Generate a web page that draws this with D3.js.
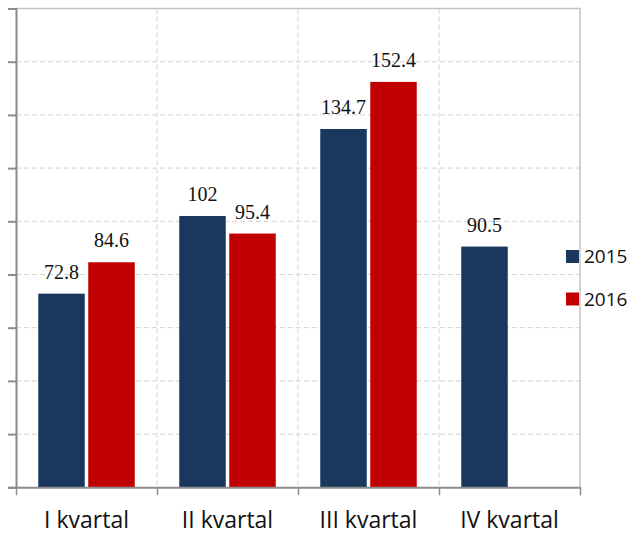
<!DOCTYPE html>
<html><head><meta charset="utf-8">
<script src="https://cdn.jsdelivr.net/npm/d3@7"></script>
<style>body{margin:0;background:#fff}svg{display:block}</style>
</head><body>
<svg id="c" width="632" height="535"></svg>
<script>
const categories = ["I kvartal", "II kvartal", "III kvartal", "IV kvartal"];
const series = ["2015", "2016"];
const values2015 = [72.8, 102, 134.7, 90.5];
const values2016 = [84.6, 95.4, 152.4, null];
const labels2015 = ["72.8", "102", "134.7", "90.5"];
const labels2016 = ["84.6", "95.4", "152.4", null];
const colors = ["#1a385e", "#c00000"];
const yTicks = [0, 20, 40, 60, 80, 100, 120, 140, 160, 180];

const svg = d3.select("#c");
const L = 16, R = 580, T = 8.5, B = 487.3;
const x = d3.scaleBand().domain(categories).range([L, R]).padding(0);
const xs = d3.scaleBand().domain(series).range([0, x.bandwidth()]).paddingInner(0.07).paddingOuter(0.445);
const y = d3.scaleLinear().domain([0, 180]).range([B, T]);

// horizontal gridlines
svg.append("g").selectAll("line").data(yTicks.filter(t => t > 0 && t < 180)).join("line")
  .attr("x1", L).attr("x2", R).attr("y1", d => y(d)).attr("y2", d => y(d))
  .attr("stroke", "#d3d3d3").attr("stroke-width", 1).attr("stroke-dasharray", "5,3");
// vertical gridlines
svg.append("g").selectAll("line").data(categories.slice(1)).join("line")
  .attr("x1", d => x(d)).attr("x2", d => x(d)).attr("y1", T).attr("y2", B)
  .attr("stroke", "#d3d3d3").attr("stroke-width", 1).attr("stroke-dasharray", "5,3");
// top & right border
svg.append("path").attr("d", `M${L},${T}H${R}V${B}`).attr("fill", "none")
  .attr("stroke", "#c4c4c4").attr("stroke-width", 1.5);

// bars
const data = [];
categories.forEach((c, i) => {
  [values2015[i], values2016[i]].forEach((v, j) => {
    if (v != null) data.push({c, s: series[j], v, lab: j === 0 ? labels2015[i] : labels2016[i], col: colors[j]});
  });
});
svg.append("g").selectAll("rect").data(data).join("rect")
  .attr("x", d => x(d.c) + xs(d.s)).attr("width", xs.bandwidth())
  .attr("y", d => y(d.v)).attr("height", d => y(0) - y(d.v))
  .attr("fill", d => d.col);
svg.append("g").selectAll("text").data(data).join("text")
  .attr("x", d => x(d.c) + xs(d.s) + xs.bandwidth() / 2)
  .attr("y", d => y(d.v) - 15)
  .attr("text-anchor", "middle")
  .attr("font-family", "'Liberation Serif', 'Times New Roman', serif")
  .attr("font-size", 20).attr("fill", "#111")
  .text(d => d.lab);

// left axis
const ya = svg.append("g").attr("transform", `translate(${L},0)`)
  .call(d3.axisLeft(y).tickValues(yTicks).tickSize(8).tickFormat(""));
ya.select(".domain").attr("stroke", "#8c8c8c").attr("stroke-width", 2);
ya.selectAll(".tick line").attr("stroke", "#8c8c8c").attr("stroke-width", 2);

// bottom axis
const xb = d3.scaleLinear().domain([0, 4]).range([L, R]);
const xa = svg.append("g").attr("transform", `translate(0,${B})`)
  .call(d3.axisBottom(xb).tickValues([0, 1, 2, 3, 4]).tickSize(8).tickSizeOuter(0).tickFormat(""));
xa.select(".domain").attr("stroke", "#8c8c8c").attr("stroke-width", 2);
xa.selectAll(".tick line").attr("stroke", "#8c8c8c").attr("stroke-width", 1.5);

// category labels
svg.append("g").selectAll("text").data(categories).join("text")
  .attr("x", d => x(d) + x.bandwidth() / 2).attr("y", 528)
  .attr("text-anchor", "middle")
  .attr("font-family", "'Open Sans', sans-serif").attr("font-size", 23).attr("fill", "#111")
  .text(d => d);

// legend
const lg = svg.append("g").selectAll("g").data(series).join("g")
  .attr("transform", (d, i) => `translate(566,${250 + i * 42.5})`);
lg.append("rect").attr("width", 13).attr("height", 13).attr("fill", (d, i) => colors[i]);
lg.append("text").attr("x", 18).attr("y", 13)
  .attr("font-family", "'Open Sans', sans-serif").attr("font-size", 19).attr("fill", "#111")
  .text(d => d);
</script>
</body></html>
